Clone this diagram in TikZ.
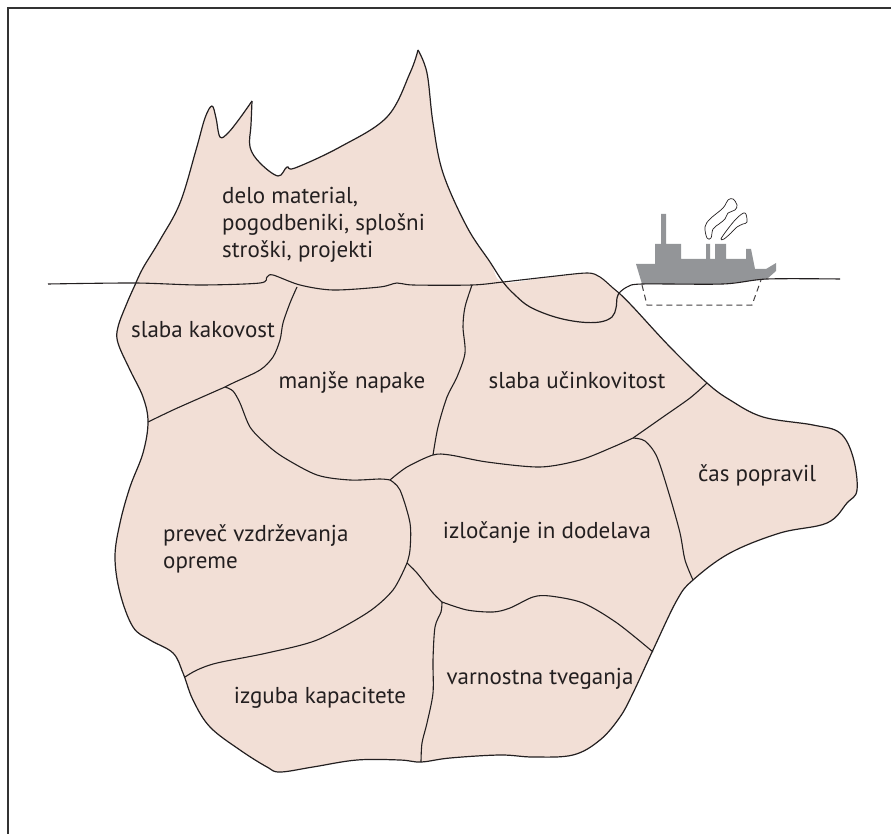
\documentclass[tikz,border=0pt]{standalone}
\usepackage{fontspec}
\setmainfont{PT Sans}
\begin{document}
\begin{tikzpicture}[x=1pt,y=-1pt,
  ice/.style={fill=iceFill},
  border/.style={draw=lineC,line width=1.2pt,line join=round},
  seam/.style={draw=lineC,line width=1.1pt},
  lbl/.style={text=txtC,font=\fontsize{23}{27}\selectfont,inner sep=0pt},
  lblL/.style={lbl,align=left},
  hull/.style={fill=shipC},
  smoke/.style={draw=lineC,line width=0.7pt,fill=white,line join=round}]
\definecolor{iceFill}{RGB}{242,223,214}
\definecolor{lineC}{RGB}{35,31,32}
\definecolor{txtC}{RGB}{35,31,32}
\definecolor{shipC}{RGB}{147,149,152}
\definecolor{frameC}{RGB}{50,50,50}

\useasboundingbox (0,0) rectangle (891,834);

% frame
\draw[frameC,line width=1.8pt] (8,834) -- (8,8) -- (891,8);

% iceberg body
\path[ice] plot[smooth,tension=0.6] coordinates {
   (135,285) (143,268) (160,240) (180,203) (196,150) (205,118) (212,106)
   (216,118) (220,137) (228,133) (240,118) (252,101)}
  -- plot[smooth,tension=0.6] coordinates {
   (252,101) (251,125) (250,147) (260,163) (278,176) (287,167) (295,168)
   (340,147) (387,117) (410,73) (418,50)}
  -- plot[smooth,tension=0.6] coordinates {
   (418,50) (427,73) (433,123) (443,173) (467,227) (490,262) (503,282)
   (547,277) (587,273) (600,277) (613,288) (619,293)}
  -- plot[smooth,tension=0.6] coordinates {
   (619,293) (633,307) (670,347) (707,383) (730,400) (763,417) (813,425)
   (840,433) (853,457) (857,490) (847,503) (827,523) (780,533) (730,553)
   (693,580) (677,600) (653,650) (633,693) (620,717) (600,740) (573,755)
   (533,757) (500,755) (450,758) (421,762) (400,760) (357,760) (313,767)
   (280,772) (267,767) (240,750) (210,727) (193,700) (183,673) (173,653)
   (150,640) (133,627) (120,593) (115,557) (120,523) (130,487) (143,453)
   (148,422) (143,397) (130,370) (118,343) (118,327) (127,303) (135,285)}
  -- cycle;

% outline of the iceberg
\draw[border] plot[smooth,tension=0.6] coordinates {
   (135,285) (143,268) (160,240) (180,203) (196,150) (205,118) (212,106)
   (216,118) (220,137) (228,133) (240,118) (252,101)};
\draw[border] plot[smooth,tension=0.6] coordinates {
   (252,101) (251,125) (250,147) (260,163) (278,176) (287,167) (295,168)
   (340,147) (387,117) (410,73) (418,50)};
\draw[border] plot[smooth,tension=0.6] coordinates {
   (418,50) (427,73) (433,123) (443,173) (467,227) (490,262) (503,282)
   (515,295) (530,307) (555,317) (580,322) (600,322) (612,317) (616,308)
   (617,298) (619,293)};
\draw[border] plot[smooth,tension=0.6] coordinates {
   (619,293) (633,307) (670,347) (707,383) (730,400) (763,417) (813,425)
   (840,433) (853,457) (857,490) (847,503) (827,523) (780,533) (730,553)
   (693,580) (677,600) (653,650) (633,693) (620,717) (600,740) (573,755)
   (533,757) (500,755) (450,758) (421,762) (400,760) (357,760) (313,767)
   (280,772) (267,767) (240,750) (210,727) (193,700) (183,673) (173,653)
   (150,640) (133,627) (120,593) (115,557) (120,523) (130,487) (143,453)
   (148,422) (143,397) (130,370) (118,343) (118,327) (127,303) (135,285)};

% ship: hull and superstructure
\path[hull] (636,264) -- (655,264) -- (655,244) -- (661,244) -- (661,214)
  -- (666,214) -- (666,244) -- (681,244) -- (681,259) -- (706,259)
  -- (706,244) -- (710,244) -- (710,259) -- (715,259) -- (715,244)
  -- (726,244) -- (726,259) -- (746,259) -- (746,249) -- (751,249)
  -- (755,269) -- (766,269) -- (776,263) -- (776,271) -- (767,279)
  -- (723,284) -- (642,284) -- cycle;
% part of the hull below the water
\draw[lineC!85,line width=1pt,dash pattern=on 6pt off 4pt]
  (642,285) -- (647,305) -- (752,305) -- (761,280);
% smoke
\draw[smoke] plot[smooth cycle,tension=0.6] coordinates {
  (707,238) (705,227) (710,219) (723,208) (728,200) (733,199) (737,205)
  (735,210) (728,213) (725,219) (719,224) (713,229) (711,238)};
\draw[smoke] plot[smooth cycle,tension=0.6] coordinates {
  (721,239) (727,230) (737,218) (745,213) (747,222) (743,224) (737,227)
  (731,233) (724,239)};

% waterline
\draw[seam] plot[smooth,tension=0.5] coordinates {
   (48,284) (135,283) (200,285) (260,283) (267,277) (273,275) (300,285)
   (333,290) (380,287) (397,283) (413,285) (472,285) (503,282) (547,277)
   (587,273) (600,277) (613,288) (619,293)};
\draw[seam] plot[smooth,tension=0.5] coordinates {
   (619,293) (627,287) (642,284) (723,284) (767,279) (840,279)};

% seams between the parts
\coordinate (j1) at (225,387);
\coordinate (j2) at (390,480);
\coordinate (j3) at (633,438);
\coordinate (j4) at (407,563);
\coordinate (j5) at (442,602);
\draw[seam] plot[smooth] coordinates {(297,287) (290,303) (283,323) (280,340) (273,357) (260,370) (233,383) (j1)};
\draw[seam] plot[smooth] coordinates {(j1) (200,398) (173,410) (148,422)};
\draw[seam] plot[smooth] coordinates {(j1) (233,391) (240,403) (250,427) (265,443) (283,457) (317,475) (350,480) (380,479) (j2)};
\draw[seam] plot[smooth] coordinates {(472,285) (465,307) (463,327) (465,353) (457,377) (447,397) (438,427) (433,455)};
\draw[seam] plot[smooth] coordinates {(j2) (407,467) (433,455) (450,455) (487,462) (540,467) (580,460) (613,447) (j3)};
\draw[seam] plot[smooth] coordinates {(j3) (663,417) (690,398) (707,383)};
\draw[seam] plot[smooth] coordinates {(j3) (645,441) (657,457) (670,497) (680,533) (685,560) (693,580)};
\draw[seam] plot[smooth] coordinates {(j2) (400,490) (410,523) (410,550) (j4)};
\draw[seam] plot[smooth] coordinates {(j4) (393,590) (367,613) (317,640) (267,653) (217,663) (197,670) (185,677)};
\draw[seam] plot[smooth] coordinates {(j4) (417,573) (433,593) (j5)};
\draw[seam] plot[smooth] coordinates {(j5) (467,610) (493,612) (510,608) (533,597) (550,596) (583,603) (617,623) (653,652)};
\draw[seam] plot[smooth] coordinates {(j5) (441,612) (435,627) (433,660) (433,693) (427,723) (422,743) (421,762)};

% labels
\node[lblL,anchor=north west] (delo) at (222,187) {delo material,\\pogodbeniki, splošni\\stroški, projekti};
\node[lbl] (kakovost) at (203,330) {slaba kakovost};
\node[lbl] (napake) at (352,383) {manjše napake};
\node[lbl] (ucink) at (577,380) {slaba učinkovitost};
\node[lbl] (popravil) at (757,475) {čas popravil};
\node[lbl] (izlocanje) at (547,533) {izločanje in dodelava};
\node[lblL,anchor=north west] (vzdrz) at (163,524) {preveč vzdrževanja\\opreme};
\node[lbl] (kapac) at (320,698) {izguba kapacitete};
\node[lbl] (varnost) at (540,679) {varnostna tveganja};
\end{tikzpicture}
\end{document}
